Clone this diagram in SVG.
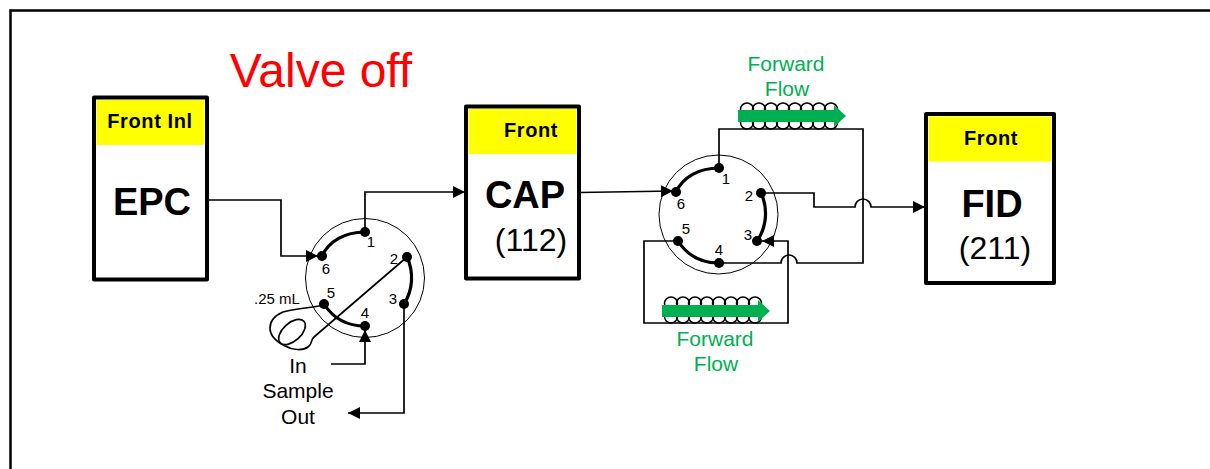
<svg xmlns="http://www.w3.org/2000/svg" width="1210" height="469" viewBox="0 0 1210 469">
<defs>
<style>
text{font-family:"Liberation Sans",Arial,sans-serif;fill:#000}
.box{fill:#fff;stroke:#000;stroke-width:4;stroke-linejoin:round}
.hdr{fill:#ff0}
.hd{font-size:20px;font-weight:bold;text-anchor:middle;letter-spacing:.6px}
.big{font-size:38px;font-weight:bold;text-anchor:middle}
.sub{font-size:32px;text-anchor:middle}
.ring{fill:none;stroke:#000;stroke-width:1}
.w{fill:none;stroke:#000;stroke-width:1.7}
.arc{fill:none;stroke:#000;stroke-width:3.200}
.coil{fill:none;stroke:#000;stroke-width:1.5}
.n{font-size:15px;text-anchor:middle}
.l{font-size:21px;text-anchor:middle}
.g{font-size:21px;text-anchor:middle;fill:#00b050}
.flow{fill:#00b050}
</style>
<marker id="ah" markerUnits="userSpaceOnUse" markerWidth="13" markerHeight="12" refX="12" refY="6" orient="auto"><path d="M0 0L12 6L0 12Z" fill="#000"/></marker>
<g id="dot"><circle r="5" fill="#000"/></g>
<g id="cc"><circle cx="0" cy="0" r="6.500" class="coil"/></g>
<g id="coilset">
<use href="#cc" x="6" y="0"/><use href="#cc" x="18" y="0"/><use href="#cc" x="30" y="0"/><use href="#cc" x="42" y="0"/><use href="#cc" x="54" y="0"/><use href="#cc" x="66" y="0"/><use href="#cc" x="78" y="0"/><use href="#cc" x="90" y="0"/>
<use href="#cc" x="6" y="13"/><use href="#cc" x="18" y="13"/><use href="#cc" x="30" y="13"/><use href="#cc" x="42" y="13"/><use href="#cc" x="54" y="13"/><use href="#cc" x="66" y="13"/><use href="#cc" x="78" y="13"/><use href="#cc" x="90" y="13"/>
</g>
</defs>
<rect width="1210" height="469" fill="#fff"/>
<path d="M1210 10.500H10.500V469" fill="none" stroke="#000" stroke-width="2.500"/>
<text id="title" x="321" y="87" font-size="48" text-anchor="middle" style="fill:#f00">Valve off</text>

<g id="connectors">
<path class="w" d="M207 200H281V256H318" marker-end="url(#ah)"/>
<path class="w" d="M365 232V192H465" marker-end="url(#ah)"/>
<path class="w" d="M579 192.500L673 191" marker-end="url(#ah)"/>
<path class="w" d="M331 364H365V330" marker-end="url(#ah)"/>
<path class="w" d="M404 304V413H348" marker-end="url(#ah)"/>
<path class="w" d="M719 168V129H863V263H797a8 8 0 0 0-16 0H719"/>
<path class="w" d="M761 193H814V207H855a8 8 0 0 1 16 0H925" marker-end="url(#ah)"/>
<path class="w" d="M678 241H644V323H788V241H762" marker-end="url(#ah)"/>
<path class="w" d="M407 257L314 337C310 340 313 344 308 347C303 351 292 350 285 346C277 342 270 336 270 328C270 320 276 315 283 312C295 309 308 308 324 305"/>
<ellipse class="w" cx="292" cy="332" rx="16" ry="9" transform="rotate(-42 292 332)"/>
</g>

<g id="node-epc">
<rect class="box" x="94" y="97.500" width="113" height="182"/>
<rect class="hdr" x="96.500" y="100" width="108" height="45"/>
<text class="hd" x="150" y="128">Front Inl</text>
<text class="big" x="152" y="215">EPC</text>
</g>
<g id="node-cap">
<rect class="box" x="466" y="106.500" width="113" height="172"/>
<rect class="hdr" x="468.500" y="109" width="108" height="45"/>
<text class="hd" x="531" y="137">Front</text>
<text class="big" x="525" y="208">CAP</text>
<text class="sub" x="531" y="251">(112)</text>
</g>
<g id="node-fid">
<rect class="box" x="926" y="114" width="128" height="169"/>
<rect class="hdr" x="928.500" y="116.500" width="123" height="45"/>
<text class="hd" x="991" y="145">Front</text>
<text class="big" x="992" y="217">FID</text>
<text class="sub" x="995" y="259">(211)</text>
</g>

<g id="valve-left">
<circle class="ring" cx="365" cy="278" r="59.500"/>
<path class="arc" d="M322 256C329 241 345 232 365 232"/>
<path class="arc" d="M407 257C414 272 413 290 404 304"/>
<path class="arc" d="M324 304C333 318 347 326 365 326"/>
<use href="#dot" x="365" y="232"/><use href="#dot" x="322" y="256"/><use href="#dot" x="407" y="257"/><use href="#dot" x="404" y="304"/><use href="#dot" x="365" y="326"/><use href="#dot" x="324" y="304"/>
<text class="n" x="371" y="247">1</text><text class="n" x="394" y="264">2</text><text class="n" x="393" y="304">3</text><text class="n" x="365" y="318">4</text><text class="n" x="331" y="298">5</text><text class="n" x="326" y="274">6</text>
<text x="254" y="304" font-size="15">.25 mL</text>
</g>

<g id="valve-right">
<circle class="ring" cx="718.500" cy="214.500" r="59.500"/>
<path class="arc" d="M676 192C683 177 699 168 719 168"/>
<path class="arc" d="M761 193C768 208 767 227 757 241"/>
<path class="arc" d="M678 241C687 255 701 263 719 263"/>
<use href="#dot" x="719" y="168"/><use href="#dot" x="676" y="192"/><use href="#dot" x="761" y="193"/><use href="#dot" x="757" y="241"/><use href="#dot" x="719" y="263"/><use href="#dot" x="678" y="241"/>
<text class="n" x="726" y="184">1</text><text class="n" x="749" y="201">2</text><text class="n" x="748" y="240">3</text><text class="n" x="719" y="255">4</text><text class="n" x="686" y="234">5</text><text class="n" x="681" y="209">6</text>
</g>

<g id="coil-top">
<use href="#coilset" x="741" y="109.500"/>
<path class="flow" d="M738 110H834V105L846 116L834 127V122H738Z"/>
</g>
<g id="coil-bottom">
<use href="#coilset" x="665" y="303.500"/>
<path class="flow" d="M662 305H758V300L770 311L758 322V317H662Z"/>
</g>

<g id="labels">
<text class="g" x="786" y="71">Forward</text><text class="g" x="787" y="96">Flow</text>
<text class="g" x="715" y="346">Forward</text><text class="g" x="716" y="371">Flow</text>
<text class="l" x="298" y="373">In</text><text class="l" x="298" y="398">Sample</text><text class="l" x="298" y="424">Out</text>
</g>
</svg>
